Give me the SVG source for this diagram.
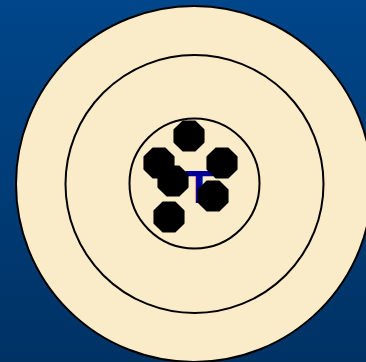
<svg xmlns="http://www.w3.org/2000/svg" width="366" height="362" viewBox="0 0 366 362">
<defs>
<linearGradient id="bg" x1="0" y1="0" x2="0" y2="1">
<stop offset="0" stop-color="#00468A"/>
<stop offset="1" stop-color="#003264"/>
</linearGradient>
<polygon id="oct" points="6.1,-14.8 14.8,-6.1 14.8,6.1 6.1,14.8 -6.1,14.8 -14.8,6.1 -14.8,-6.1 -6.1,-14.8" fill="#000" stroke="#000" stroke-width="1.5" stroke-linejoin="round"/>
</defs>
<style>
.ring{fill:#FAEBC9;stroke:#000;stroke-width:2}
.lbl{font-family:"Liberation Sans",Arial,sans-serif;font-size:47px;font-weight:bold;fill:#000099;text-anchor:middle}
</style>
<rect width="366" height="362" fill="url(#bg)"/>
<g id="outer"><circle class="ring" cx="194" cy="184" r="178"/></g>
<g id="middle"><circle class="ring" cx="194.5" cy="184" r="129"/></g>
<g id="inner"><circle class="ring" cx="194.5" cy="183.5" r="65"/></g>
<g id="label"><text class="lbl" x="199" y="203">T</text></g>
<g id="dots">
<use href="#oct" x="189" y="136"/>
<use href="#oct" x="159" y="163"/>
<use href="#oct" x="222" y="163"/>
<use href="#oct" x="173" y="181"/>
<use href="#oct" x="213" y="196"/>
<use href="#oct" x="169" y="217"/>
</g>
</svg>
